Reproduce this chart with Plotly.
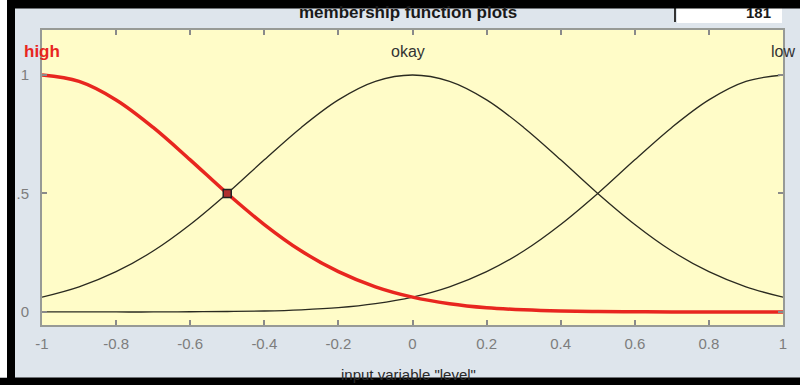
import plotly.graph_objects as go

# ---- data ----
x_vals = [-1.0, -0.9, -0.8, -0.7, -0.6, -0.5, -0.4, -0.3, -0.2, -0.1, 0.0,
          0.1, 0.2, 0.3, 0.4, 0.5, 0.6, 0.7, 0.8, 0.9, 1.0]
high_vals = [1.0, 0.973, 0.895, 0.779, 0.642, 0.5, 0.369, 0.257, 0.170, 0.106, 0.0625,
             0.035, 0.018, 0.009, 0.004, 0.002, 0.001, 0.0, 0.0, 0.0, 0.0]
okay_vals = [0.0625, 0.106, 0.170, 0.257, 0.369, 0.5, 0.642, 0.779, 0.895, 0.973, 1.0,
             0.973, 0.895, 0.779, 0.642, 0.5, 0.369, 0.257, 0.170, 0.106, 0.0625]
low_vals = [0.0, 0.0, 0.0, 0.0, 0.001, 0.002, 0.004, 0.009, 0.018, 0.035, 0.0625,
            0.106, 0.170, 0.257, 0.369, 0.5, 0.642, 0.779, 0.895, 0.973, 1.0]
mf_names = ["high", "okay", "low"]
mf_label_x = [-1.0, -0.012, 1.0]
mf_label_y = [1.10, 1.10, 1.10]
marker_x = [-0.5]
marker_y = [0.5]
x_tick_vals = [-1, -0.8, -0.6, -0.4, -0.2, 0, 0.2, 0.4, 0.6, 0.8, 1]
x_tick_text = ["-1", "-0.8", "-0.6", "-0.4", "-0.2", "0", "0.2", "0.4", "0.6", "0.8", "1"]
y_tick_vals = [0, 0.5, 1]
y_tick_text = ["0", ".5", "1"]
window_title = "membership function plots"
points_text = "181"
x_title = 'input variable "level"'

W, H = 800, 385
L, R, T, B = 42, 17, 30, 60
PW, PH = W - L - R, H - T - B


def px(xp):
    return (xp - L) / PW


def py(yp):
    return (H - B - yp) / PH


FONT = "Liberation Sans, Arial, sans-serif"
GRAY = "#7d7d7d"
DARK = "#2a2a20"
RED = "#e8261f"

fig = go.Figure()
fig.add_trace(go.Scatter(x=x_vals, y=okay_vals, mode="lines", line=dict(color=DARK, width=1.3, shape="spline"),
                         showlegend=False, hoverinfo="skip"))
fig.add_trace(go.Scatter(x=x_vals, y=low_vals, mode="lines", line=dict(color=DARK, width=1.3, shape="spline"),
                         showlegend=False, hoverinfo="skip"))
fig.add_trace(go.Scatter(x=x_vals, y=high_vals, mode="lines", line=dict(color=RED, width=3.5, shape="spline"),
                         showlegend=False, hoverinfo="skip"))
fig.add_trace(go.Scatter(x=marker_x, y=marker_y, mode="markers",
                         marker=dict(symbol="square", size=8, color="#b03030", line=dict(color="#222", width=1.5)),
                         showlegend=False, hoverinfo="skip"))

annotations = []
label_styles = [dict(color=RED, size=17, weight="bold"), dict(color="#333333", size=16), dict(color="#333333", size=16)]
for name, lx, ly, st in zip(mf_names, mf_label_x, mf_label_y, label_styles):
    annotations.append(dict(x=lx, y=ly, xref="x", yref="y", text=name, showarrow=False,
                            xanchor="center", yanchor="middle",
                            font=dict(family=FONT, **st)))
annotations.append(dict(x=px(408), y=py(1), xref="paper", yref="paper", text=window_title,
                        showarrow=False, xanchor="center", yanchor="top",
                        font=dict(family=FONT, size=17, color="#1a1a1a", weight="bold")))
annotations.append(dict(x=px(758), y=py(2), xref="paper", yref="paper", text=points_text,
                        showarrow=False, xanchor="center", yanchor="top",
                        font=dict(family=FONT, size=15, color="#1a1a1a", weight="bold")))
annotations.append(dict(x=px(408), y=py(364), xref="paper", yref="paper", text=x_title,
                        showarrow=False, xanchor="center", yanchor="top",
                        font=dict(family=FONT, size=15, color="#2a2a2a")))

shapes = [
    # white box at top right
    dict(type="rect", xref="paper", yref="paper", x0=px(677), x1=px(782), y0=py(23), y1=py(0),
         fillcolor="white", line=dict(width=0), layer="below"),
    dict(type="line", xref="paper", yref="paper", x0=px(675), x1=px(675), y0=py(22), y1=py(8),
         line=dict(color="#333", width=2), layer="above"),
    # black frame bands
    dict(type="rect", xref="paper", yref="paper", x0=px(0), x1=px(800), y0=py(8.5), y1=py(0),
         fillcolor="black", line=dict(width=0), layer="above"),
    dict(type="rect", xref="paper", yref="paper", x0=px(0), x1=px(800), y0=py(385), y1=py(377.5),
         fillcolor="black", line=dict(width=0), layer="above"),
    dict(type="rect", xref="paper", yref="paper", x0=px(0), x1=px(7), y0=py(377.5), y1=py(0),
         fillcolor="white", line=dict(width=0), layer="above"),
    dict(type="rect", xref="paper", yref="paper", x0=px(7), x1=px(15), y0=py(385), y1=py(0),
         fillcolor="black", line=dict(width=0), layer="above"),
]

axis_common = dict(showgrid=False, zeroline=False, showline=True, linecolor="#979a96", linewidth=2,
                   mirror="ticks", ticks="inside", ticklen=5, tickwidth=1.5, tickcolor="#8a8a8a",
                   tickfont=dict(family=FONT, size=15, color=GRAY))

fig.update_layout(
    width=W, height=H, autosize=False,
    margin=dict(l=L, r=R, t=T, b=B, pad=0),
    paper_bgcolor="#dee5ec",
    plot_bgcolor="#fffcc8",
    xaxis=dict(range=[-1, 1], tickvals=x_tick_vals, ticktext=x_tick_text, ticklabelstandoff=4, **axis_common),
    yaxis=dict(range=[-0.055, 1.19], tickvals=y_tick_vals, ticktext=y_tick_text, ticklabelstandoff=8, **axis_common),
    annotations=annotations,
    shapes=shapes,
)

fig.write_html("out.html", config={"displayModeBar": False},
               post_script="document.body.style.margin='0';document.body.style.overflow='hidden';")
